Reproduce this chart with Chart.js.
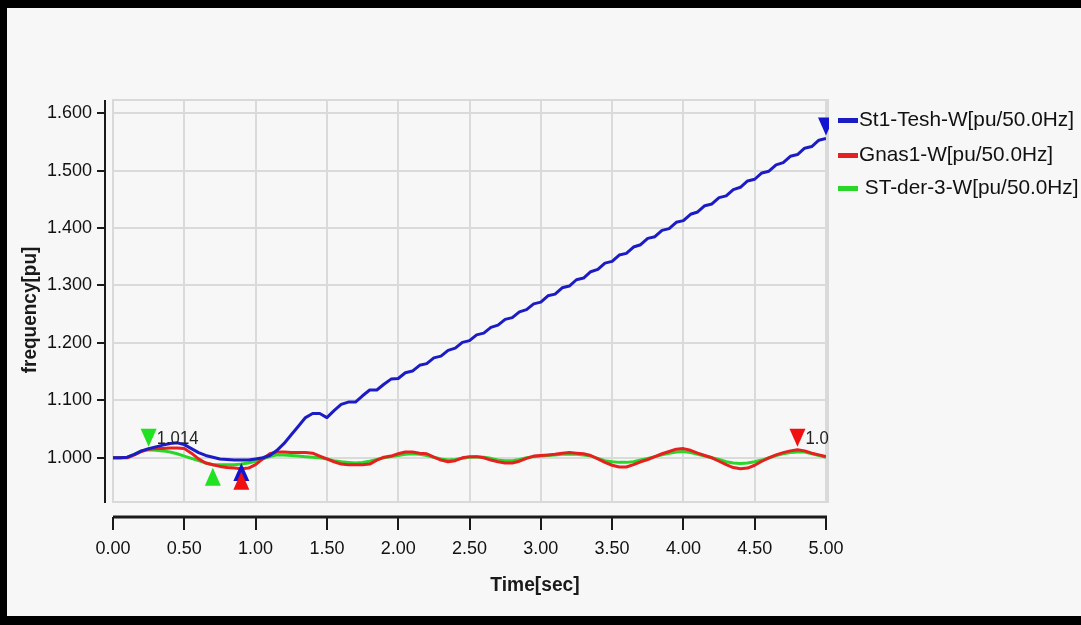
<!DOCTYPE html>
<html>
<head>
<meta charset="utf-8">
<script src="https://cdn.jsdelivr.net/npm/chart.js@4.4.0/dist/chart.umd.min.js"></script>
<style>
    html, body { margin: 0; padding: 0; background: #000; overflow: hidden; }
    #frame { position: absolute; left: 7px; top: 8px; width: 1074px; height: 608px; background: #f7f7f7; }
    canvas { display: block; }
</style>
</head>
<body>
<div id="frame"><canvas id="freqChart" width="1074" height="608"></canvas></div>
<script>
// Sample times (sec)
const times = [
    0.00, 0.05, 0.10, 0.15, 0.20, 0.25, 0.30, 0.35, 0.40, 0.45,
    0.50, 0.55, 0.60, 0.65, 0.70, 0.75, 0.80, 0.85, 0.90, 0.95,
    1.00, 1.05, 1.10, 1.15, 1.20, 1.25, 1.30, 1.35, 1.40, 1.45,
    1.50, 1.55, 1.60, 1.65, 1.70, 1.75, 1.80, 1.85, 1.90, 1.95,
    2.00, 2.05, 2.10, 2.15, 2.20, 2.25, 2.30, 2.35, 2.40, 2.45,
    2.50, 2.55, 2.60, 2.65, 2.70, 2.75, 2.80, 2.85, 2.90, 2.95,
    3.00, 3.05, 3.10, 3.15, 3.20, 3.25, 3.30, 3.35, 3.40, 3.45,
    3.50, 3.55, 3.60, 3.65, 3.70, 3.75, 3.80, 3.85, 3.90, 3.95,
    4.00, 4.05, 4.10, 4.15, 4.20, 4.25, 4.30, 4.35, 4.40, 4.45,
    4.50, 4.55, 4.60, 4.65, 4.70, 4.75, 4.80, 4.85, 4.90, 4.95,
    5.00
];

// St1-Tesh-W
const tesh = [
    1.000, 1.000, 1.001, 1.006, 1.012, 1.016, 1.019, 1.022, 1.025, 1.026,
    1.023, 1.016, 1.009, 1.004, 1.001, 0.998, 0.997, 0.996, 0.996, 0.996,
    0.998, 1.000, 1.004, 1.013, 1.025, 1.040, 1.055, 1.070, 1.077, 1.077,
    1.070, 1.082, 1.093, 1.097, 1.097, 1.108, 1.118, 1.118, 1.128, 1.137,
    1.138, 1.148, 1.151, 1.161, 1.164, 1.174, 1.177, 1.187, 1.191, 1.201,
    1.204, 1.214, 1.217, 1.227, 1.231, 1.241, 1.244, 1.254, 1.258, 1.268,
    1.271, 1.282, 1.285, 1.296, 1.299, 1.310, 1.313, 1.324, 1.328, 1.339,
    1.342, 1.353, 1.356, 1.367, 1.371, 1.382, 1.385, 1.396, 1.399, 1.410,
    1.413, 1.424, 1.428, 1.439, 1.442, 1.453, 1.456, 1.467, 1.471, 1.482,
    1.485, 1.496, 1.499, 1.510, 1.514, 1.525, 1.528, 1.539, 1.542, 1.553,
    1.556
];

// Gnas1-W
const gnas = [
    1.000, 1.000, 1.000, 1.005, 1.011, 1.015, 1.016, 1.016, 1.017, 1.017,
    1.016, 1.008, 0.998, 0.991, 0.988, 0.985, 0.983, 0.982, 0.981, 0.982,
    0.988, 0.998, 1.007, 1.010, 1.010, 1.009, 1.009, 1.009, 1.008, 1.003,
    0.998, 0.993, 0.989, 0.988, 0.988, 0.988, 0.989, 0.996, 1.001, 1.003,
    1.007, 1.010, 1.010, 1.008, 1.007, 1.001, 0.996, 0.993, 0.995, 1.000,
    1.002, 1.002, 1.000, 0.996, 0.993, 0.991, 0.991, 0.994, 0.999, 1.003,
    1.004, 1.005, 1.006, 1.008, 1.009, 1.008, 1.007, 1.004, 0.998, 0.992,
    0.987, 0.984, 0.984, 0.988, 0.993, 0.997, 1.002, 1.007, 1.011, 1.015,
    1.016, 1.013, 1.008, 1.004, 1.000, 0.994, 0.988, 0.983, 0.981, 0.982,
    0.987, 0.994, 1.000, 1.005, 1.009, 1.012, 1.014, 1.012, 1.008, 1.005,
    1.002
];

// ST-der-3-W
const stder = [
    1.000, 1.000, 1.001, 1.006, 1.012, 1.014, 1.013, 1.012, 1.010, 1.007,
    1.003, 0.999, 0.995, 0.991, 0.988, 0.988, 0.988, 0.988, 0.989, 0.991,
    0.994, 0.998, 1.002, 1.005, 1.005, 1.004, 1.003, 1.002, 1.001, 1.000,
    0.998, 0.995, 0.993, 0.992, 0.991, 0.992, 0.994, 0.997, 1.000, 1.002,
    1.004, 1.006, 1.007, 1.006, 1.004, 1.001, 0.998, 0.996, 0.997, 0.999,
    1.001, 1.002, 1.001, 0.999, 0.996, 0.995, 0.995, 0.997, 1.000, 1.002,
    1.003, 1.004, 1.005, 1.006, 1.006, 1.006, 1.005, 1.003, 0.999, 0.995,
    0.993, 0.992, 0.992, 0.993, 0.996, 0.999, 1.002, 1.005, 1.008, 1.010,
    1.011, 1.009, 1.006, 1.003, 1.000, 0.997, 0.993, 0.991, 0.990, 0.991,
    0.993, 0.996, 1.000, 1.004, 1.007, 1.009, 1.010, 1.010, 1.007, 1.004,
    1.001
];

const seriesLabels = ['St1-Tesh-W[pu/50.0Hz]', 'Gnas1-W[pu/50.0Hz]', ' ST-der-3-W[pu/50.0Hz]'];
const xTicks = [0, 0.5, 1, 1.5, 2, 2.5, 3, 3.5, 4, 4.5, 5];
const yTicks = [1.0, 1.1, 1.2, 1.3, 1.4, 1.5, 1.6];

// Min/max markers: series index, time, pointing direction, label
const markerSeries = [2, 2, 0, 1, 1, 0];
const markerTimes = [0.25, 0.70, 0.90, 0.90, 4.80, 5.00];
const markerDirs = ['down', 'up', 'up', 'up', 'down', 'down'];
const markerTexts = ['1.014', '', '', '', '1.014', ''];

const lineColors = ['#1c1cc4', '#e62020', '#2ad62a'];
const markColors = ['#1414d0', '#f01010', '#22e022'];
const FONT = '"Liberation Sans", Arial, sans-serif';

function toPoints(vals) {
    return vals.map((v, i) => ({ x: times[i], y: v }));
}

// text squeezed a bit horizontally, as in the original screenshot
function squeezedText(ctx, text, x, y, sx) {
    ctx.save();
    ctx.translate(x, y);
    ctx.scale(sx, 1);
    ctx.fillText(text, 0, 0);
    ctx.restore();
}

const decorPlugin = {
    id: 'decor',
    beforeDatasetsDraw(chart) {
        const { ctx, chartArea: a } = chart;
        ctx.save();
        ctx.strokeStyle = '#d9d9d9';
        ctx.lineWidth = 2;
        ctx.strokeRect(a.left, a.top, a.right - a.left + 2, a.bottom - a.top);
        ctx.restore();
    },
    afterDatasetsDraw(chart) {
        const { ctx, chartArea: a } = chart;
        const xs = chart.scales.x, ys = chart.scales.y;
        ctx.save();
        ctx.beginPath();
        ctx.rect(a.left, a.top - 40, a.right - a.left + 3, a.bottom - a.top + 60);
        ctx.clip();
        markerTimes.forEach((t, k) => {
            const s = markerSeries[k];
            const idx = times.findIndex(v => Math.abs(v - t) < 1e-6);
            const val = chart.data.datasets[s].data[idx].y;
            const px = xs.getPixelForValue(t);
            const py = ys.getPixelForValue(val);
            const w = 16, h = 18;
            ctx.fillStyle = markColors[s];
            ctx.beginPath();
            if (markerDirs[k] === 'down') {
                const tip = py - 3;
                ctx.moveTo(px, tip);
                ctx.lineTo(px - w / 2, tip - h);
                ctx.lineTo(px + w / 2, tip - h);
            } else {
                const tip = py + 3;
                ctx.moveTo(px, tip);
                ctx.lineTo(px - w / 2, tip + h);
                ctx.lineTo(px + w / 2, tip + h);
            }
            ctx.closePath();
            ctx.fill();
            if (markerTexts[k]) {
                ctx.fillStyle = '#222';
                ctx.font = '19px ' + FONT;
                ctx.textBaseline = 'middle';
                ctx.textAlign = 'left';
                squeezedText(ctx, markerTexts[k], px + 8, py - 3 - h / 2 + 1, 0.88);
            }
        });
        ctx.restore();
    },
    afterDraw(chart) {
        const { ctx, chartArea: a } = chart;
        const xs = chart.scales.x, ys = chart.scales.y;
        ctx.save();
        // axis lines, offset from the plot like the original
        ctx.strokeStyle = '#1a1a1a';
        ctx.lineWidth = 2;
        const ax = a.left - 8;
        ctx.beginPath();
        ctx.moveTo(ax, a.top);
        ctx.lineTo(ax, a.bottom + 1);
        yTicks.forEach(v => {
            const py = Math.round(ys.getPixelForValue(v));
            ctx.moveTo(ax - 8, py);
            ctx.lineTo(ax, py);
        });
        ctx.stroke();
        const ay = a.bottom + 15;
        ctx.lineWidth = 3;
        ctx.beginPath();
        ctx.moveTo(a.left, ay);
        ctx.lineTo(a.right + 1, ay);
        ctx.stroke();
        ctx.lineWidth = 2;
        ctx.beginPath();
        xTicks.forEach(v => {
            const px = Math.round(xs.getPixelForValue(v));
            ctx.moveTo(px, ay);
            ctx.lineTo(px, ay + 13);
        });
        ctx.stroke();

        // axis titles
        ctx.fillStyle = '#1a1a1a';
        ctx.font = 'bold 20px ' + FONT;
        ctx.textAlign = 'center';
        ctx.textBaseline = 'middle';
        squeezedText(ctx, 'Time[sec]', 528, 577, 0.96);
        ctx.translate(23, 302);
        ctx.rotate(-Math.PI / 2);
        squeezedText(ctx, 'frequency[pu]', 0, 0, 0.95);
        ctx.restore();

        // legend
        ctx.save();
        const rows = [112, 147, 180];
        ctx.font = '21px ' + FONT;
        ctx.textBaseline = 'middle';
        ctx.textAlign = 'left';
        chart.data.datasets.forEach((ds, i) => {
            ctx.fillStyle = ds.borderColor;
            ctx.fillRect(831, rows[i] - 2, 20, 5);
            ctx.fillStyle = '#111';
            squeezedText(ctx, ds.label, 852, rows[i], 0.99);
        });
        ctx.restore();
    }
};

const ctxFreq = document.getElementById('freqChart').getContext('2d');
new Chart(ctxFreq, {
    type: 'line',
    data: {
        datasets: [
            { label: seriesLabels[0], data: toPoints(tesh), borderColor: lineColors[0], borderWidth: 3 },
            { label: seriesLabels[1], data: toPoints(gnas), borderColor: lineColors[1], borderWidth: 3 },
            { label: seriesLabels[2], data: toPoints(stder), borderColor: lineColors[2], borderWidth: 3 }
        ]
    },
    options: {
        responsive: false,
        animation: false,
        layout: { padding: { left: 0, top: 92, right: 255, bottom: 0 } },
        elements: { point: { radius: 0 }, line: { tension: 0, borderJoinStyle: 'round' } },
        plugins: { legend: { display: false }, tooltip: { enabled: false } },
        scales: {
            x: {
                type: 'linear',
                min: 0,
                max: 5,
                afterBuildTicks: s => { s.ticks = xTicks.map(v => ({ value: v })); },
                afterFit: s => { s.height = 114; },
                grid: { color: '#dadada', lineWidth: 2, drawTicks: false },
                border: { display: false },
                ticks: {
                    padding: 36,
                    maxRotation: 0,
                    autoSkip: false,
                    color: '#111',
                    font: { family: FONT, size: 18 },
                    callback: v => Number(v).toFixed(2)
                }
            },
            y: {
                type: 'linear',
                min: 0.923,
                max: 1.623,
                afterBuildTicks: s => { s.ticks = yTicks.map(v => ({ value: v })); },
                afterFit: s => { s.width = 106; },
                grid: { color: '#dadada', lineWidth: 2, drawTicks: false },
                border: { display: false },
                ticks: {
                    padding: 21,
                    color: '#111',
                    font: { family: FONT, size: 18 },
                    callback: v => Number(v).toFixed(3)
                }
            }
        }
    },
    plugins: [decorPlugin]
});
</script>
</body>
</html>
